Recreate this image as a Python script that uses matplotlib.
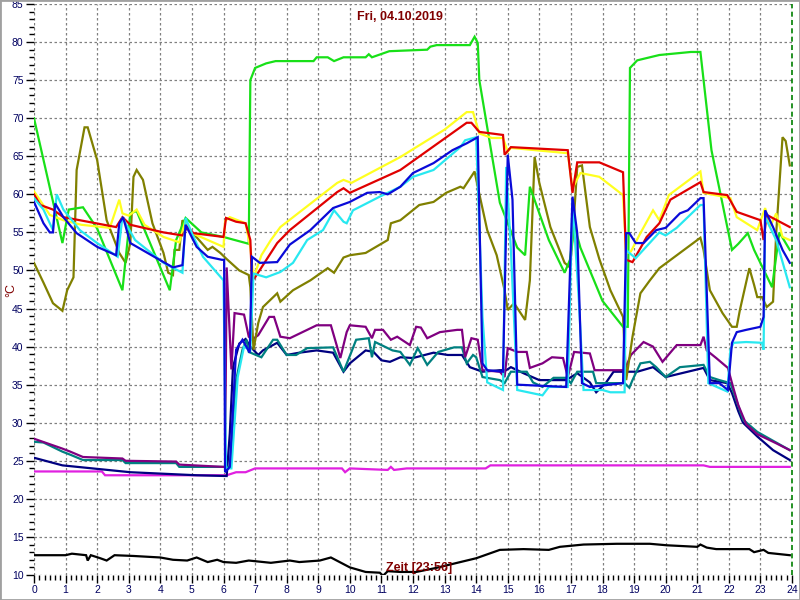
import matplotlib
matplotlib.use("Agg")
import matplotlib.pyplot as plt
from matplotlib.patches import Rectangle
from matplotlib.ticker import MultipleLocator

plt.rcParams['font.family'] = ['Liberation Sans', 'DejaVu Sans']

# (hour, °C)
green = [(0, 70), (0.9, 53.6), (1.1, 58), (1.55, 58.3), (2.0, 55.5), (2.8, 47.4), (3.05, 57.5),
         (3.25, 57.8), (4.3, 47.4), (4.5, 54), (4.8, 56.9), (5.3, 55), (6.0, 54.4), (6.8, 53.5),
         (6.85, 75), (7.0, 76.6), (7.35, 77.2), (7.65, 77.5), (8.85, 77.5), (8.95, 78), (9.3, 78),
         (9.5, 77.5), (9.8, 78), (10.5, 78), (10.6, 78.4), (10.7, 78), (11.25, 78.8), (12.45, 79),
         (12.55, 79.4), (12.75, 79.6), (13.8, 79.6), (13.95, 80.7), (14.05, 79.9), (14.1, 75),
         (14.75, 58.9), (15.3, 53), (15.55, 52), (15.7, 61), (16.3, 54), (16.8, 49.7), (16.97, 51.4),
         (17.1, 56), (17.3, 53), (18.0, 46), (18.65, 42.6), (18.8, 42.6), (18.87, 76.6), (19.1, 77.6),
         (19.8, 78.3), (20.8, 78.7), (21.1, 78.7), (21.45, 65.8), (22.1, 52.7), (22.3, 53.5),
         (22.6, 54.9), (22.8, 52.7), (23.37, 47.8), (23.6, 55), (23.93, 52.7)]

yellow = [(0, 60.4), (0.5, 57.3), (0.93, 56.6), (1.5, 56), (2.4, 55.6), (2.7, 59.3), (2.8, 57.5),
          (3.0, 57.2), (3.25, 58), (3.5, 56), (4.1, 54.4), (4.6, 53.7), (4.8, 56.6), (4.95, 55),
          (5.5, 54), (6.0, 53.1), (6.05, 56.5), (6.2, 57), (6.7, 56.2), (6.85, 53), (6.95, 49),
          (7.2, 52), (7.5, 54), (7.8, 55.7), (9.6, 61.5), (9.8, 61.9), (10.05, 61.5), (11.6, 64.9),
          (13.0, 68.5), (13.7, 70.8), (13.9, 70.8), (14.1, 68), (14.5, 67.4), (14.85, 67.4),
          (15.0, 65.6), (15.1, 66.1), (16.9, 65.4), (17.05, 60.8), (17.3, 62.8), (17.9, 62.3),
          (18.65, 59.9), (18.75, 52.3), (18.9, 52.5), (19.2, 54.9), (19.6, 57.9), (19.8, 56.6),
          (20.1, 59.9), (21.1, 63), (21.2, 60.2), (22.05, 59.5), (22.25, 57), (22.9, 55.3),
          (23.15, 58.2), (23.3, 55.7), (23.5, 57.5), (23.7, 54.4), (23.93, 54)]

red = [(0, 60), (0.2, 58.6), (0.6, 58), (0.93, 57), (1.45, 56.6), (2.6, 55.7), (2.8, 57), (3.05, 56),
       (4.1, 55), (4.7, 54.6), (4.85, 55.7), (5.05, 54.9), (6.0, 54.4), (6.08, 56.9), (6.4, 56.4),
       (6.7, 56.2), (6.85, 54), (6.9, 48.7), (7.0, 49.1), (7.7, 53.6), (8.1, 55.3), (9.6, 60.3),
       (9.8, 60.8), (10.0, 60.2), (11.6, 63.2), (13.7, 69.4), (13.85, 69.4), (14.1, 68.2),
       (14.85, 67.8), (14.9, 65.2), (15.1, 66.2), (16.9, 65.8), (17.05, 60.2), (17.2, 64.2),
       (17.9, 64.2), (18.65, 62.9), (18.75, 51.4), (18.95, 51.1), (19.4, 54.4), (19.8, 56.2),
       (20.15, 59.3), (21.1, 61.6), (21.2, 60.3), (21.95, 59.9), (22.25, 57.7), (23.0, 56.6),
       (23.1, 54), (23.2, 57.3), (23.93, 55.7)]

blue = [(0, 59), (0.3, 56.2), (0.5, 55), (0.6, 55), (0.67, 58.8), (0.93, 57), (1.35, 54.9),
        (2.0, 53.1), (2.6, 52), (2.7, 56.2), (2.82, 57), (3.05, 53.6), (4.1, 51.1), (4.4, 50.4),
        (4.7, 50.7), (4.8, 56), (5.15, 53.1), (5.5, 51.8), (5.95, 51.4), (6.02, 51.4), (6.05, 23.5),
        (6.2, 24.2), (6.4, 39.6), (6.6, 40.9), (6.83, 39.2), (6.9, 51.8), (7.15, 51), (7.7, 51.1),
        (8.1, 53.4), (8.75, 55.3), (9.47, 58.2), (10.0, 59), (10.55, 60.2), (10.95, 60.3),
        (11.2, 60), (11.6, 61), (12.0, 62.8), (12.65, 64.1), (13.25, 65.8), (13.7, 66.7),
        (14.05, 67.5), (14.2, 37.8), (14.35, 36.9), (14.85, 36.7), (15.0, 65.2), (15.15, 59.3),
        (15.3, 35), (16.85, 34.7), (17.05, 59.7), (17.2, 54.9), (17.35, 35.2), (17.6, 34.7),
        (18.65, 35.2), (18.75, 54.9), (18.85, 54.9), (19.05, 53.6), (19.3, 53.6), (19.7, 55.3),
        (20.0, 55.6), (20.45, 57.5), (20.7, 57.9), (21.1, 59.5), (21.2, 59.5), (21.4, 35.2),
        (21.7, 35.2), (21.97, 34.3), (22.1, 40.5), (22.25, 41.9), (22.55, 42.2), (23.0, 42.6),
        (23.1, 43.9), (23.15, 57.9), (23.4, 55.7), (23.7, 52.7), (23.93, 51)]

cyan = [(0, 59.5), (0.3, 58), (0.6, 55.3), (0.72, 60), (0.93, 58), (1.45, 55.3), (2.0, 53.6),
        (2.65, 51.8), (2.8, 57), (2.9, 56.2), (3.2, 54), (4.1, 51), (4.7, 49.7), (4.8, 56.9),
        (5.05, 54.4), (5.35, 51.8), (6.0, 48.7), (6.08, 24), (6.25, 24), (6.45, 36), (6.65, 40),
        (6.85, 39.5), (6.95, 49.6), (7.35, 49.1), (7.8, 49.8), (8.2, 51), (8.65, 54), (9.15, 55.3),
        (9.5, 57.9), (9.8, 56.4), (9.9, 56.2), (10.1, 57.9), (10.95, 59.7), (11.6, 61), (12.0, 62.3),
        (12.65, 63.2), (13.5, 66.2), (13.65, 67.1), (14.0, 67.5), (14.2, 43.9), (14.35, 35.3),
        (14.85, 34.3), (14.95, 63.6), (15.1, 52.7), (15.3, 34.3), (16.1, 33.6), (16.3, 34.7),
        (16.9, 34.7), (17.05, 59.3), (17.25, 46.1), (17.4, 34.3), (18.0, 34.3), (18.25, 34),
        (18.7, 34), (18.75, 52.7), (18.85, 52.3), (19.05, 51.6), (19.8, 55), (20.0, 54.6),
        (20.35, 55.6), (21.1, 58.6), (21.2, 58.6), (21.35, 35.2), (21.95, 34.1), (22.05, 39.6),
        (22.15, 40.5), (22.55, 40.6), (23.05, 40.5), (23.1, 39.6), (23.15, 57), (23.5, 54),
        (23.93, 47.8)]

olive = [(0, 51), (0.3, 48.4), (0.6, 45.7), (0.9, 44.7), (1.05, 47.4), (1.25, 49.1), (1.35, 63.2),
         (1.6, 68.8), (1.7, 68.8), (2.0, 64.5), (2.3, 56.6), (2.7, 52.3), (2.9, 51), (3.05, 53.6),
         (3.15, 62.3), (3.25, 63.2), (3.45, 61.9), (3.75, 56.2), (4.1, 52.3), (4.25, 49.7),
         (4.4, 49.4), (4.45, 52.7), (4.6, 52.7), (4.7, 56.6), (4.95, 55.3), (5.5, 52.7),
         (5.65, 53.1), (5.9, 52.3), (6.1, 51.5), (6.5, 50), (6.8, 49.4), (6.85, 47.8), (6.95, 39.6),
         (7.1, 43.1), (7.25, 45.2), (7.7, 47), (7.8, 45.9), (8.2, 47.4), (8.75, 48.7), (9.3, 50.3),
         (9.5, 49.7), (9.8, 51.7), (10.0, 52), (10.5, 52.3), (11.2, 54), (11.3, 56.2), (11.6, 56.6),
         (12.2, 58.6), (12.65, 59), (13.05, 60.2), (13.5, 61), (13.6, 60.8), (13.95, 63),
         (14.05, 61), (14.35, 55.3), (14.65, 52), (14.9, 47.4), (15.0, 44.8), (15.2, 45.7),
         (15.55, 43.5), (15.7, 48.7), (15.85, 64.9), (16.0, 61.5), (16.35, 55.7), (16.8, 51),
         (16.97, 50.4), (17.05, 54), (17.2, 63.6), (17.35, 63.8), (17.6, 55.7), (17.9, 51.5),
         (18.25, 47.4), (18.65, 43.9), (18.75, 35.6), (18.95, 41.3), (19.2, 47), (19.5, 48.7),
         (19.8, 50.3), (20.45, 52.3), (21.1, 54.3), (21.2, 52.7), (21.4, 47.4), (21.8, 44.4),
         (22.1, 42.6), (22.25, 42.6), (22.35, 44.8), (22.65, 50.3), (22.8, 48.1), (22.9, 46.5),
         (23.05, 46.5), (23.2, 45.2), (23.4, 45.9), (23.5, 54.9), (23.7, 67.5), (23.8, 67),
         (23.93, 63.8)]

purple = [(0, 27.9), (0.9, 26.6), (1.15, 26.2), (1.55, 25.5), (2.8, 25.3), (2.9, 25), (4.5, 24.9),
          (4.6, 24.5), (6.0, 24.2), (6.05, 24.2), (6.1, 50.4), (6.25, 37), (6.35, 44.4),
          (6.65, 44.2), (6.8, 41.3), (6.9, 40.9), (7.1, 41.5), (7.45, 43.9), (7.6, 43.9),
          (7.8, 41.3), (8.1, 41.1), (8.3, 41.5), (8.95, 42.8), (9.4, 42.8), (9.7, 38.5), (9.9, 41.9),
          (10.0, 42.8), (10.5, 42.6), (10.7, 41.1), (10.8, 42.2), (11.05, 42.2), (11.3, 40.9),
          (11.5, 41.3), (11.9, 40.2), (12.1, 42.6), (12.25, 42.5), (12.45, 41.1), (12.85, 41.9),
          (13.4, 42.2), (13.55, 42.2), (13.65, 38.6), (13.85, 41.1), (14.05, 40.9), (14.2, 36.9),
          (14.75, 36.7), (14.9, 36), (15.0, 39.8), (15.3, 39.3), (15.6, 39.3), (15.7, 37.2),
          (16.1, 37.8), (16.4, 38.6), (16.75, 38.5), (16.9, 36), (17.1, 39.3), (17.6, 39.1),
          (17.75, 36.9), (18.7, 36.9), (18.9, 38.9), (19.3, 40.6), (19.6, 40), (19.9, 38),
          (20.35, 40.2), (21.1, 40.2), (21.2, 41.3), (21.3, 39.5), (21.6, 38.5), (21.97, 37.2),
          (22.1, 35.2), (22.3, 32.3), (22.55, 29.8), (22.9, 28.5), (23.5, 27.3), (23.93, 26.4)]

teal = [(0, 27.5), (0.3, 27.4), (0.9, 26.2), (1.15, 25.8), (1.55, 25.1), (2.8, 25.1), (2.9, 24.7),
        (4.5, 24.7), (4.6, 24.2), (6.2, 24.2), (6.4, 35.6), (6.6, 39.6), (6.73, 40.9), (6.8, 39.3),
        (7.2, 38.6), (7.57, 40.9), (7.7, 40.9), (8.0, 38.9), (8.3, 38.9), (8.65, 39.8),
        (9.47, 39.9), (9.8, 36.7), (10.05, 39.3), (10.2, 40.9), (10.6, 41.1), (10.7, 38.6),
        (10.8, 40.6), (11.35, 39.5), (11.6, 39.3), (11.9, 37.6), (12.15, 39.8), (12.45, 37.6),
        (12.8, 39.3), (13.3, 39.9), (13.55, 39.9), (13.7, 37.8), (13.9, 38.9), (14.0, 38.6),
        (14.2, 36), (14.75, 35.6), (14.9, 35.2), (15.1, 36.7), (15.6, 36.7), (15.8, 35.3),
        (16.1, 34.7), (16.45, 35.9), (16.85, 35.9), (17.0, 35.2), (17.2, 36.7), (17.7, 36.7),
        (17.8, 35.2), (18.7, 35.2), (18.85, 34.6), (18.95, 35.6), (19.2, 37.8), (19.5, 38),
        (19.7, 37.3), (20.0, 36), (20.45, 37.3), (21.2, 37.6), (21.4, 36), (21.7, 35.6),
        (22.05, 35.2), (22.25, 32.8), (22.45, 30.4), (22.9, 28.8), (23.5, 27.4), (23.93, 26.4)]

navy = [(0, 25.4), (0.9, 24.4), (3.05, 23.5), (5.15, 23.1), (6.1, 23.0), (6.2, 28.6), (6.3, 37.3),
        (6.5, 40.4), (6.7, 41), (6.85, 40), (7.1, 38.9), (7.25, 39.5), (7.7, 40.5), (8.0, 38.9),
        (8.4, 39.2), (8.95, 39.5), (9.47, 39.2), (9.8, 36.7), (10.0, 37.8), (10.5, 39.5),
        (10.75, 39.3), (11.0, 38.2), (11.27, 38), (11.6, 38.6), (12.0, 38.5), (12.65, 39.2),
        (13.1, 38.9), (13.55, 38.9), (13.8, 37.3), (14.2, 36.7), (14.75, 36.9), (14.95, 36.9),
        (15.1, 37.3), (15.5, 36.5), (16.0, 35.6), (16.85, 35.6), (17.2, 36.5), (17.6, 35.3),
        (17.8, 34), (18.1, 35.2), (18.35, 36.7), (19.1, 36.7), (19.6, 37.3), (20.0, 36),
        (21.2, 37.2), (21.4, 35.6), (21.95, 35.2), (22.1, 33.9), (22.3, 31.5), (22.45, 30),
        (22.9, 28.2), (23.4, 26.4), (23.93, 25.1)]

magenta = [(0, 23.6), (2.15, 23.6), (2.25, 23.1), (6.1, 23.1), (6.4, 23.5), (6.7, 23.5),
           (7.0, 24.0), (9.75, 24.0), (9.85, 23.5), (10.0, 24.0), (11.2, 23.8), (11.3, 24.2),
           (11.4, 23.8), (11.8, 24.0), (14.3, 24.0), (14.45, 24.4), (21.2, 24.4), (21.4, 24.2),
           (23.93, 24.2)]

black = [(0, 12.6), (1.0, 12.6), (1.2, 12.8), (1.65, 12.6), (1.7, 11.9), (1.8, 12.6), (2.1, 12.2),
         (2.3, 11.9), (2.55, 12.6), (3.15, 12.5), (4.0, 12.3), (4.4, 12.0), (4.85, 11.9),
         (5.15, 12.3), (5.5, 11.7), (5.8, 12.0), (6.0, 11.7), (6.4, 11.6), (6.8, 11.9), (7.5, 11.6),
         (8.1, 11.9), (8.4, 11.7), (9.05, 11.9), (9.4, 12.3), (10.0, 11.0), (10.5, 10.4),
         (10.95, 10.3), (11.05, 9.9), (11.2, 10.5), (11.6, 10.4), (12.1, 10.4), (12.7, 10.9),
         (13.4, 11.6), (14.0, 12.2), (14.75, 13.3), (15.5, 13.4), (16.3, 13.3), (16.65, 13.7),
         (17.4, 14.0), (18.45, 14.1), (19.5, 14.1), (20.05, 13.9), (21.0, 13.7), (21.1, 14.0),
         (21.3, 13.6), (21.6, 13.4), (22.65, 13.4), (22.8, 13.0), (23.1, 13.3), (23.25, 12.9),
         (23.93, 12.6)]

series = [
    (black, '#000000'),
    (magenta, '#e020e0'),
    (navy, '#000080'),
    (teal, '#008080'),
    (purple, '#800080'),
    (olive, '#808000'),
    (green, '#18e018'),
    (yellow, '#ffff20'),
    (red, '#e00000'),
    (cyan, '#28e8f0'),
    (blue, '#0a0ad8'),
]

fig = plt.figure(figsize=(8, 6), dpi=100)
ax = fig.add_axes([34 / 800, 25 / 600, 758 / 800, 571 / 600])

for pts, col in series:
    xs = [p[0] for p in pts]
    ys = [p[1] for p in pts]
    ax.plot(xs, ys, color=col, lw=1.6, solid_joinstyle='miter')

ax.set_xlim(0, 24)
ax.set_ylim(10, 85)
ax.xaxis.set_major_locator(MultipleLocator(1))
ax.xaxis.set_minor_locator(MultipleLocator(1 / 6))
ax.yaxis.set_major_locator(MultipleLocator(5))
ax.yaxis.set_minor_locator(MultipleLocator(1))
ax.grid(True, which='major', color='#808080', linestyle=(0, (2, 2)), lw=0.9)
ax.set_axisbelow(True)
ax.axvline(24, color='#008000', linestyle=(0, (3, 2)), lw=1.2, clip_on=False)

for s in ax.spines.values():
    s.set_visible(False)
ax.tick_params(which='major', length=6, width=1, color='black', labelsize=7.5,
               labelcolor='#000060', pad=1.5)
ax.tick_params(which='minor', length=3.5, width=1, color='black')

fig.text(400 / 800, 1 - 17 / 600, 'Fri, 04.10.2019', ha='center', va='center',
         color='#800000', fontweight='bold', fontsize=9)
fig.text(419 / 800, 1 - 568 / 600, 'Zeit [23:56]', ha='center', va='center',
         color='#800000', fontweight='bold', fontsize=9)
fig.text(11 / 800, 1 - 290 / 600, '°C', ha='center', va='center', rotation=90,
         color='#800000', fontsize=9)

fig.patches.append(Rectangle((0, 0), 1, 1, transform=fig.transFigure, fill=False,
                             edgecolor='#a0a0a0', lw=2))

fig.savefig('out.png', dpi=100)
